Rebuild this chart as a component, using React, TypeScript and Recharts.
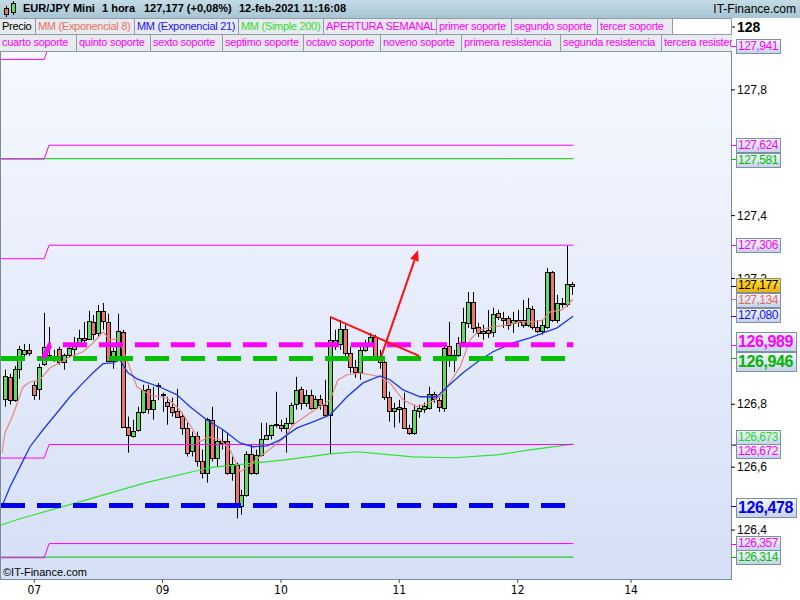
import React from "react";
import { ComposedChart, Bar, Line, XAxis, YAxis, ReferenceLine } from "recharts";

// EUR/JPY 1h candles, 5-feb (late) .. 12-feb-2021 11:00
const open = [
  126.818, 126.887, 126.814, 126.913, 126.961, 126.973, 126.862, 126.849, 126.929, 126.948,
  126.951, 126.976, 126.935, 126.957, 126.976, 126.992, 127.011, 127.008, 127.062, 127.027,
  127.097, 127.062, 126.938, 126.945, 127.030, 126.729, 126.700, 126.719, 126.776, 126.849,
  126.786, 126.859, 126.830, 126.808, 126.792, 126.780, 126.764, 126.726, 126.652, 126.700,
  126.621, 126.583, 126.751, 126.630, 126.682, 126.682, 126.583, 126.608, 126.478, 126.513,
  126.643, 126.583, 126.640, 126.691, 126.703, 126.735, 126.735, 126.726, 126.741, 126.802,
  126.849, 126.805, 126.830, 126.789, 126.818, 126.799, 126.767, 127.005, 126.992, 127.040,
  126.964, 126.919, 126.903, 126.973, 126.989, 127.014, 126.954, 126.935, 126.824, 126.780,
  126.786, 126.789, 126.726, 126.710, 126.780, 126.786, 126.789, 126.833, 126.814, 126.789,
  126.986, 126.957, 126.957, 126.998, 127.059, 127.126, 127.046, 127.027, 127.037, 127.030,
  127.091, 127.075, 127.075, 127.059, 127.068, 127.068, 127.053, 127.103, 127.046, 127.034,
  127.046, 127.221, 127.068, 127.122, 127.119, 127.183,
];
const high = [
  126.910, 126.897, 126.922, 126.986, 126.992, 126.992, 126.872, 126.929, 127.091, 127.046,
  126.973, 126.983, 126.961, 126.995, 127.014, 127.037, 127.062, 127.097, 127.084, 127.116,
  127.122, 127.088, 126.980, 127.088, 127.037, 126.761, 126.751, 126.792, 126.862, 126.862,
  126.856, 126.868, 126.837, 126.824, 126.821, 126.849, 126.773, 126.741, 126.713, 126.713,
  126.656, 126.757, 126.792, 126.726, 126.719, 126.710, 126.634, 126.614, 126.528, 126.650,
  126.672, 126.656, 126.741, 126.741, 126.735, 126.840, 126.751, 126.757, 126.805, 126.887,
  126.856, 126.846, 126.846, 126.827, 126.830, 126.878, 127.078, 127.037, 127.068, 127.053,
  126.983, 126.941, 126.995, 127.005, 127.027, 127.021, 126.973, 126.948, 126.840, 126.805,
  126.814, 126.837, 126.735, 126.799, 126.799, 126.805, 126.856, 126.840, 126.824, 126.989,
  127.062, 126.973, 127.014, 127.107, 127.157, 127.157, 127.059, 127.053, 127.100, 127.107,
  127.100, 127.094, 127.081, 127.094, 127.100, 127.132, 127.138, 127.113, 127.068, 127.068,
  127.234, 127.224, 127.148, 127.138, 127.304, 127.189,
];
const low = [
  126.792, 126.799, 126.808, 126.881, 126.948, 126.954, 126.814, 126.814, 126.922, 126.941,
  126.935, 126.926, 126.910, 126.948, 126.951, 126.983, 126.983, 127.005, 127.005, 127.014,
  127.037, 126.935, 126.913, 126.941, 126.726, 126.646, 126.694, 126.713, 126.770, 126.770,
  126.751, 126.814, 126.776, 126.735, 126.761, 126.757, 126.703, 126.634, 126.634, 126.602,
  126.564, 126.551, 126.618, 126.602, 126.656, 126.576, 126.557, 126.437, 126.449, 126.506,
  126.576, 126.576, 126.634, 126.688, 126.688, 126.726, 126.713, 126.646, 126.735, 126.783,
  126.783, 126.792, 126.783, 126.783, 126.783, 126.767, 126.643, 126.973, 126.973, 126.951,
  126.900, 126.884, 126.878, 126.967, 126.983, 126.941, 126.913, 126.814, 126.745, 126.726,
  126.741, 126.722, 126.703, 126.703, 126.757, 126.773, 126.783, 126.805, 126.776, 126.776,
  126.919, 126.903, 126.951, 126.983, 127.043, 127.027, 127.014, 127.005, 127.011, 127.014,
  127.068, 127.043, 127.037, 127.027, 127.046, 127.043, 127.046, 127.037, 127.027, 127.021,
  127.040, 127.062, 127.059, 127.107, 127.110, 127.148,
];
const close = [
  126.890, 126.814, 126.913, 126.976, 126.973, 126.964, 126.830, 126.919, 126.983, 126.957,
  126.954, 126.935, 126.957, 126.980, 126.995, 127.011, 127.005, 127.065, 127.024, 127.097,
  127.065, 126.938, 126.970, 127.034, 126.729, 126.703, 126.716, 126.776, 126.846, 126.786,
  126.814, 126.862, 126.833, 126.795, 126.776, 126.761, 126.726, 126.646, 126.700, 126.621,
  126.583, 126.754, 126.630, 126.682, 126.678, 126.583, 126.611, 126.478, 126.513, 126.643,
  126.583, 126.640, 126.691, 126.703, 126.735, 126.738, 126.726, 126.741, 126.799, 126.846,
  126.805, 126.830, 126.789, 126.818, 126.799, 126.767, 127.005, 126.992, 127.040, 126.964,
  126.919, 126.903, 126.973, 126.992, 127.014, 126.951, 126.935, 126.824, 126.780, 126.789,
  126.792, 126.726, 126.710, 126.783, 126.789, 126.795, 126.833, 126.818, 126.792, 126.980,
  126.957, 126.955, 126.995, 127.062, 127.126, 127.043, 127.027, 127.034, 127.027, 127.088,
  127.078, 127.068, 127.053, 127.068, 127.062, 127.053, 127.107, 127.046, 127.034, 127.053,
  127.221, 127.068, 127.122, 127.120, 127.183, 127.177,
];

// moving averages: [bar position, price]
const ema8 = [
  [-0.55, 126.645], [0.06, 126.709], [1.68, 126.766], [3.71, 126.855], [5.13, 126.871],
  [7.16, 126.878], [9.18, 126.916], [11.21, 126.932], [13.24, 126.951], [15.88, 126.967],
  [17.9, 126.995], [19.93, 127.03], [21.35, 127.005], [22.97, 127.008], [24.8, 126.941],
  [26.82, 126.855], [28.45, 126.84], [30.07, 126.827], [32.91, 126.82], [35.54, 126.782],
  [38.18, 126.719], [39.6, 126.68], [41.22, 126.696], [43.65, 126.687], [45.68, 126.655],
  [47.71, 126.585], [49.74, 126.607], [51.76, 126.633], [54.4, 126.665], [56.83, 126.696],
  [58.46, 126.734], [61.3, 126.766], [63.93, 126.792], [65.96, 126.814], [67.58, 126.878],
  [69.4, 126.894], [72.04, 126.9], [74.07, 126.894], [76.1, 126.887], [78.12, 126.868],
  [80.76, 126.814], [83.6, 126.792], [86.23, 126.805], [88.26, 126.824], [89.68, 126.855],
  [92.32, 126.919], [94.34, 127.005], [96.37, 127.037], [99.0, 127.046], [101.85, 127.053],
  [104.48, 127.062], [107.12, 127.062], [109.15, 127.068], [110.57, 127.094], [113.0, 127.1],
  [115.23, 127.134],
];
const ema21 = [
  [-0.61, 126.474], [1.07, 126.537], [3.1, 126.601], [5.13, 126.665], [7.77, 126.719],
  [10.6, 126.773], [13.24, 126.824], [15.88, 126.868], [17.9, 126.9], [19.93, 126.929],
  [21.96, 126.932], [23.38, 126.941], [25.0, 126.9], [26.82, 126.881], [28.45, 126.871],
  [31.49, 126.855], [34.94, 126.83], [37.57, 126.792], [41.02, 126.75], [44.26, 126.719],
  [47.71, 126.677], [50.35, 126.665], [53.19, 126.668], [55.82, 126.687], [59.27, 126.725],
  [62.51, 126.744], [65.96, 126.766], [69.4, 126.824], [72.65, 126.868], [76.1, 126.89],
  [78.12, 126.878], [80.76, 126.846], [84.2, 126.824], [87.65, 126.824], [89.68, 126.855],
  [92.92, 126.9], [96.37, 126.941], [99.0, 126.967], [103.06, 126.995], [106.51, 127.011],
  [109.15, 127.027], [111.98, 127.043], [115.23, 127.08],
];
const sma200 = [
  [-0.75, 126.416], [3.1, 126.436], [17.3, 126.499], [28.45, 126.55], [39.6, 126.591],
  [41.02, 126.598], [56.83, 126.623], [65.96, 126.642], [71.43, 126.649], [76.1, 126.642],
  [82.78, 126.633], [90.89, 126.63], [99.82, 126.639], [106.51, 126.655], [115.23, 126.673],
];

// weekly levels: previous week (left of the step) and current week
const levelsPrev = [127.897, 127.58, 127.263, 126.629, 126.312];
const levelsNow = [127.941, 127.624, 127.306, 126.672, 126.357];
const greenLevels = [127.581, 126.314];
const weeklyOpenPrev = 126.946;
const weeklyOpen = 126.989;
const blueLevel = 126.478;

const trendLine = [[65.96, 127.078], [84.0, 126.954]];
const arrowLine = [[76.3, 126.951], [83.8, 127.291]];

const xTickPos = [6, 32, 56, 80, 104, 127];
const xTickLabels = ["07", "09", "10", "11", "12", "14"];
// 127,0 and 127,6 sit fully under the price tags, so they are not drawn
const yTicks = [126.4, 126.6, 126.8, 127.2, 127.4, 127.8, 128];

const tagValues = [
  127.941, 127.624, 127.581, 127.306, 127.177, 127.134, 127.08,
  126.989, 126.946, 126.673, 126.672, 126.478, 126.357, 126.314,
];

const legendRow1 = [
  "Precio", "MM (Exponencial 8)", "MM (Exponencial 21)", "MM (Simple 200)",
  "APERTURA SEMANAL", "primer soporte", "segundo soporte", "tercer soporte",
];
const legendRow2 = [
  "cuarto soporte", "quinto soporte", "sexto soporte", "septimo soporte", "octavo soporte",
  "noveno soporte", "primera resistencia", "segunda resistencia", "tercera resistencia",
];

// ---- layout / styling ----
const MAGENTA = "#ff00ff";
const GREEN_LVL = "#00c000";
const BLUE_LVL = "#0000ee";
const EMA8_COLOR = "#e8877c";
const EMA21_COLOR = "#1a3ae8";
const SMA_COLOR = "#33e033";
const UP = "#5fdc5f";
const DOWN = "#ea766e";
const FONT = "'Liberation Sans', Arial, sans-serif";
const NARROW = "'Liberation Sans Narrow', 'DejaVu Sans Condensed', sans-serif";

const PLOT_TOP = 18;
const PLOT_H = 561;
const Y_MIN = 126.2443;
const Y_MAX = 128.0286;
const X_MIN = -0.75;
const X_MAX = 147.25;
const STEP_A = 8;
const STEP_B = 9;
const END = 115.3;

const row1Widths = [36, 99, 104, 85, 113, 75, 86, 75];
const row1Colors = ["#000", "#e8735f", "#1515ff", "#33dd33", MAGENTA, MAGENTA, MAGENTA, MAGENTA];
const row2Widths = [77, 74, 72, 81, 77, 81, 99, 101, 80];

const tagStyles = [
  { color: MAGENTA, nudge: 1 },
  { color: MAGENTA, nudge: 0 },
  { color: GREEN_LVL, nudge: 1.5 },
  { color: MAGENTA, nudge: 0.5 },
  { color: "#000", nudge: 0, yellow: true },
  { color: "#e06a5c", nudge: 1 },
  { color: "#1010ff", nudge: -0.5 },
  { color: MAGENTA, nudge: -2.4, big: true },
  { color: "#00b400", nudge: 3.6, big: true },
  { color: "#22dd22", nudge: -6.7 },
  { color: MAGENTA, nudge: 7 },
  { color: BLUE_LVL, nudge: 2, big: true },
  { color: MAGENTA, nudge: -0.5 },
  { color: GREEN_LVL, nudge: 0 },
];

const yOf = (v: number) => PLOT_TOP + ((Y_MAX - v) / (Y_MAX - Y_MIN)) * PLOT_H;
const comma = (v: number, d: number) => v.toFixed(d).replace(".", ",");

const candles = open.map((o, i) => ({ x: i, o, h: high[i], l: low[i], c: close[i] }));
const pts = (arr: number[][]) => arr.map(([x, v]) => ({ x, v }));
const stepLine = (a: number, b: number) => [
  { x: X_MIN, v: a }, { x: STEP_A, v: a }, { x: STEP_B, v: b }, { x: END, v: b },
];
const flatLine = (v: number) => [{ x: X_MIN, v }, { x: END, v }];

const Candle = (props: any) => {
  const { x, y, width, height, payload } = props;
  if (!payload) return null;
  const { o, h, l, c } = payload;
  const top = height >= 0 ? y : y + height;
  const hh = Math.abs(height);
  const ppu = hh / (h - l || 1);
  const py = (v: number) => top + (h - v) * ppu;
  const cx = Math.round(x + width / 2);
  const bTop = Math.round(py(Math.max(o, c)));
  const bBot = Math.round(py(Math.min(o, c)));
  return (
    <g>
      <line x1={cx + 0.5} x2={cx + 0.5} y1={top} y2={top + hh} stroke="#000" strokeWidth={1} />
      <rect
        x={cx - 1.5}
        y={bTop + 0.5}
        width={4}
        height={Math.max(bBot - bTop, 1)}
        fill={c >= o ? UP : DOWN}
        stroke="#000"
        strokeWidth={1}
      />
    </g>
  );
};

const ArrowShape = (props: any) => {
  const { x1, y1, x2, y2 } = props;
  if (x1 == null) return null;
  const ang = Math.atan2(y2 - y1, x2 - x1);
  const len = 11;
  const wid = 4.5;
  const bx = x2 - len * Math.cos(ang);
  const by = y2 - len * Math.sin(ang);
  const nx = -Math.sin(ang) * wid;
  const ny = Math.cos(ang) * wid;
  return (
    <g>
      <line x1={x1} y1={y1} x2={bx} y2={by} stroke="#ff1010" strokeWidth={2} />
      <polygon points={`${x2},${y2} ${bx + nx},${by + ny} ${bx - nx},${by - ny}`} fill="#ff1010" />
    </g>
  );
};

const YTick = (props: any) => {
  const { x, y, payload } = props;
  const v = payload.value;
  const big = Math.abs(v - 128) < 1e-9;
  return (
    <text x={x} y={y} dy={big ? 5 : 4} fontSize={big ? 14 : 12} fontWeight={big ? "bold" : "normal"} fill="#000" fontFamily={FONT} textAnchor="start">
      {big ? "128" : comma(v, 1)}
    </text>
  );
};

const lineProps = { dot: false, activeDot: false, isAnimationActive: false, dataKey: "v", legendType: "none" as const };

const legendBox = (text: string, w: number, color: string, k: number) => (
  <div
    key={k}
    style={{
      width: w,
      height: 16,
      boxSizing: "border-box",
      borderRight: "1px solid #8f9ca8",
      background: "#e7eaee",
      color,
      fontSize: 11,
      letterSpacing: "-0.3px",
      lineHeight: "15px",
      paddingLeft: 2,
      whiteSpace: "nowrap",
      overflow: "hidden",
      flex: "none",
    }}
  >
    {text}
  </div>
);

export default function App() {
  return (
    <div style={{ position: "fixed", left: 0, top: 0, width: 800, height: 600, background: "#fff", overflow: "hidden", fontFamily: FONT }}>
      {/* plot background */}
      <div
        style={{
          position: "absolute",
          left: 0,
          top: PLOT_TOP,
          width: 732,
          height: 562,
          boxSizing: "border-box",
          borderLeft: "1px solid #7c8a98",
          borderRight: "1px solid #7c8a98",
          borderBottom: "1px solid #7c8a98",
          background: "linear-gradient(#f8faff, #d5dff6)",
        }}
      />
      <div style={{ position: "absolute", left: 0, top: 0 }}>
        <ComposedChart width={800} height={600} data={candles} margin={{ top: PLOT_TOP, right: 0, bottom: 0, left: 1 }}>
          <XAxis
            dataKey="x"
            type="number"
            domain={[X_MIN, X_MAX]}
            allowDataOverflow
            ticks={xTickPos}
            interval={0}
            tickFormatter={(v: number) => xTickLabels[xTickPos.indexOf(v)] ?? ""}
            height={21}
            axisLine={false}
            tickSize={4}
            tickMargin={2}
            tickLine={{ stroke: "#555" }}
            tick={{ fontSize: 12, fill: "#000", fontFamily: NARROW }}
          />
          <YAxis
            orientation="right"
            type="number"
            domain={[Y_MIN, Y_MAX]}
            allowDataOverflow
            ticks={yTicks}
            interval={0}
            width={69}
            axisLine={false}
            tickSize={4}
            tickMargin={2}
            tickLine={{ stroke: "#000" }}
            tick={<YTick />}
          />
          <Line {...lineProps} data={pts(sma200)} stroke={SMA_COLOR} strokeWidth={1.2} />
          {greenLevels.map((v, k) => (
            <Line key={"g" + k} {...lineProps} data={flatLine(v)} stroke={GREEN_LVL} strokeWidth={1} />
          ))}
          {levelsPrev.map((v, k) => (
            <Line key={"m" + k} {...lineProps} data={stepLine(v, levelsNow[k])} stroke={MAGENTA} strokeWidth={1} />
          ))}
          <Bar dataKey={(d: any) => [d.l, d.h]} barSize={4} isAnimationActive={false} shape={(p: any) => <Candle {...p} />} />
          <Line {...lineProps} data={pts(ema8)} stroke={EMA8_COLOR} strokeWidth={1.2} />
          <Line {...lineProps} data={pts(ema21)} stroke={EMA21_COLOR} strokeWidth={1.3} />
          <Line {...lineProps} data={flatLine(weeklyOpenPrev)} stroke="#00c000" strokeWidth={5} strokeDasharray="24 12" />
          <Line {...lineProps} data={flatLine(blueLevel)} stroke={BLUE_LVL} strokeWidth={5} strokeDasharray="24 12" />
          <Line
            {...lineProps}
            data={[{ x: 7.83, v: weeklyOpenPrev }, { x: 9.18, v: weeklyOpen }, { x: END, v: weeklyOpen }]}
            stroke={MAGENTA}
            strokeWidth={5}
            strokeDasharray="24 12"
            strokeDashoffset={8}
          />
          <ReferenceLine
            segment={trendLine.map(([x, y]) => ({ x, y }))}
            stroke="#ff1010"
            strokeWidth={2}
            ifOverflow="visible"
          />
          <ReferenceLine
            segment={arrowLine.map(([x, y]) => ({ x, y }))}
            stroke="#ff1010"
            strokeWidth={2}
            ifOverflow="visible"
            shape={(p: any) => <ArrowShape {...p} />}
          />
        </ComposedChart>
      </div>

      {/* header */}
      <div
        style={{
          position: "absolute",
          left: 0,
          top: 0,
          width: 800,
          height: 18,
          background: "linear-gradient(#c4dbe6, #a8c5d3)",
          fontSize: 11,
          fontWeight: "bold",
          color: "#000",
        }}
      >
        <svg width={18} height={18} style={{ position: "absolute", left: 2, top: 0 }}>
          <line x1={4.5} x2={4.5} y1={6} y2={17} stroke="#000" />
          <rect x={2.5} y={8.5} width={4} height={6} fill={DOWN} stroke="#000" />
          <line x1={11.5} x2={11.5} y1={1} y2={15} stroke="#000" />
          <rect x={9.5} y={3.5} width={4} height={9} fill={UP} stroke="#000" />
        </svg>
        <span style={{ position: "absolute", left: 23, top: 2 }}>EUR/JPY Mini</span>
        <span style={{ position: "absolute", left: 102, top: 2 }}>1 hora</span>
        <span style={{ position: "absolute", left: 144, top: 2 }}>127,177 (+0,08%)</span>
        <span style={{ position: "absolute", left: 239, top: 2 }}>12-feb-2021 11:16:08</span>
        <span style={{ position: "absolute", right: 4, top: 2, fontWeight: "normal", fontSize: 12 }}>IT-Finance.com</span>
      </div>

      {/* legend rows */}
      <div style={{ position: "absolute", left: 0, top: 18, width: 732, height: 16, display: "flex", borderTop: "1px solid #8f9ca8", boxSizing: "border-box" }}>
        {legendRow1.map((t, k) => legendBox(t, row1Widths[k], row1Colors[k], k))}
        <div style={{ flex: 1, background: "#fff", borderRight: "1px solid #8f9ca8" }} />
      </div>
      <div style={{ position: "absolute", left: 0, top: 34, width: 732, height: 16, display: "flex", borderTop: "1px solid #8f9ca8", borderBottom: "1px solid #8f9ca8", boxSizing: "content-box", overflow: "hidden" }}>
        {legendRow2.map((t, k) => legendBox(t, row2Widths[k], MAGENTA, k))}
      </div>

      {/* price tags on the right axis */}
      {tagValues.map((v, k) => {
        const st: any = tagStyles[k];
        const h = st.big ? 20 : 15;
        const w = st.big ? 61 : 45;
        const cy = yOf(v) + st.nudge;
        return (
          <React.Fragment key={k}>
            <div style={{ position: "absolute", left: 731, top: Math.round(yOf(v)), width: 5, height: 1, background: st.color }} />
            <div
              style={{
                position: "absolute",
                left: 736,
                top: Math.round(cy - h / 2),
                width: w,
                height: h,
                boxSizing: "border-box",
                border: "1px solid #7d8fa3",
                background: st.yellow ? "linear-gradient(#ffdd40, #f2b400)" : "linear-gradient(#f3f6fd, #c6d3ea)",
                color: st.color,
                fontSize: st.big ? 16 : 12,
                letterSpacing: st.big ? "-0.4px" : "-0.5px",
                fontWeight: st.big ? "bold" : "normal",
                lineHeight: `${h - 2}px`,
                paddingLeft: 1,
                whiteSpace: "nowrap",
                overflow: "hidden",
              }}
            >
              {comma(v, 3)}
            </div>
          </React.Fragment>
        );
      })}

      <div style={{ position: "absolute", left: 3, top: 566, fontSize: 11, color: "#000" }}>©IT-Finance.com</div>
    </div>
  );
}
